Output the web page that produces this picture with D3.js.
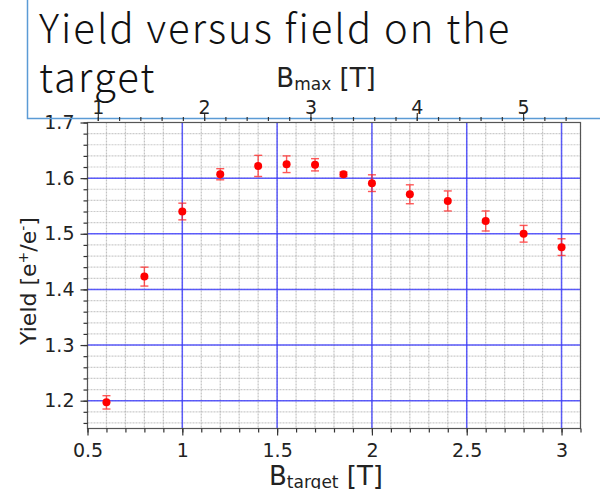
<!DOCTYPE html>
<html>
<head>
<meta charset="utf-8">
<script src="https://cdn.jsdelivr.net/npm/d3@7"></script>
<style>
  body { margin: 0; background: #fff; }
  svg { display: block; }
</style>
</head>
<body>
<div id="chart"></div>
<script>
// measured points
const bTarget = [0.6, 0.8, 1.0, 1.2, 1.4, 1.55, 1.7, 1.85, 2.0, 2.2, 2.4, 2.6, 2.8, 3.0];
const yieldVals = [1.197, 1.423, 1.540, 1.607, 1.622, 1.625, 1.624, 1.607, 1.591, 1.571, 1.559, 1.523, 1.500, 1.476];
const yieldErr = [0.012, 0.017, 0.015, 0.010, 0.019, 0.015, 0.011, 0.004, 0.015, 0.017, 0.018, 0.018, 0.015, 0.015];

const xTicks = [0.5, 1, 1.5, 2, 2.5, 3];
const yTicks = [1.2, 1.3, 1.4, 1.5, 1.6, 1.7];
const bmaxTicks = [1, 2, 3, 4, 5];
const titleLines = ["Yield versus field on the", "target"];

const W = 600, H = 489;
const pLeft = 87.5, pRight = 580.5, pTop = 122.5, pBottom = 428.5;

const svg = d3.select("#chart").append("svg")
  .attr("width", W).attr("height", H);

const x = d3.scaleLinear().domain([0.5, 3.1]).range([pLeft, pRight]);
const y = d3.scaleLinear().domain([1.15, 1.7]).range([pBottom, pTop]);
const xTop = d3.scaleLinear().domain([0.903, 5.54]).range([pLeft, pRight]);

const xMinor = d3.range(0.5, 3.101, 0.1);
const yMinor = d3.range(1.16, 1.701, 0.02);
const topMinor = d3.range(1, 5.41, 0.2);

const font = "'DejaVu Sans', Verdana, sans-serif";

// minor grid
const grid = svg.append("g");
grid.selectAll(".vmin").data(xMinor).join("line")
  .attr("x1", d => x(d)).attr("x2", d => x(d))
  .attr("y1", pTop).attr("y2", pBottom)
  .attr("stroke", "#aaa").attr("stroke-width", 1.2)
  .attr("stroke-dasharray", "2,1").attr("opacity", 0.7);
grid.selectAll(".hmin").data(yMinor).join("line")
  .attr("x1", pLeft).attr("x2", pRight)
  .attr("y1", d => y(d)).attr("y2", d => y(d))
  .attr("stroke", "#aaa").attr("stroke-width", 1.2)
  .attr("stroke-dasharray", "2,1").attr("opacity", 0.6);

// major grid (blue)
grid.selectAll(".vmaj").data(xTicks.slice(1)).join("line")
  .attr("x1", d => x(d)).attr("x2", d => x(d))
  .attr("y1", pTop).attr("y2", pBottom)
  .attr("stroke", "#3a3aff").attr("stroke-width", 1.5).attr("opacity", 0.8);
grid.selectAll(".hmaj").data(yTicks.slice(0, -1)).join("line")
  .attr("x1", pLeft).attr("x2", pRight)
  .attr("y1", d => y(d)).attr("y2", d => y(d))
  .attr("stroke", "#3a3aff").attr("stroke-width", 1.5).attr("opacity", 0.8);

// frame
svg.append("rect")
  .attr("x", pLeft).attr("y", pTop)
  .attr("width", pRight - pLeft).attr("height", pBottom - pTop)
  .attr("fill", "none").attr("stroke", "#555").attr("stroke-width", 1.2);

function styleAxis(g) {
  g.select(".domain").remove();
  g.selectAll(".tick line").attr("stroke", "#333").attr("stroke-width", 1.2);
  g.selectAll("text").attr("fill", "#222")
    .style("font-family", font).style("font-size", "19px");
}

// bottom axis
svg.append("g").attr("transform", `translate(0,${pBottom})`)
  .call(d3.axisBottom(x).tickValues(xMinor).tickSize(4).tickFormat(""))
  .call(styleAxis);
svg.append("g").attr("transform", `translate(0,${pBottom})`)
  .call(d3.axisBottom(x).tickValues(xTicks).tickSize(7).tickPadding(8).tickFormat(d3.format("")))
  .call(styleAxis);

// left axis
svg.append("g").attr("transform", `translate(${pLeft},0)`)
  .call(d3.axisLeft(y).tickValues(yMinor).tickSize(4).tickFormat(""))
  .call(styleAxis);
svg.append("g").attr("transform", `translate(${pLeft},0)`)
  .call(d3.axisLeft(y).tickValues(yTicks).tickSize(7).tickPadding(6).tickFormat(d3.format(".1f")))
  .call(styleAxis);

// error bars and points
const pts = bTarget.map((b, i) => ({b: b, v: yieldVals[i], e: yieldErr[i]}));
const eb = svg.append("g").attr("stroke", "#ff2020").attr("stroke-width", 1.4).attr("opacity", 0.75);
eb.selectAll(".bar").data(pts).join("line")
  .attr("x1", d => x(d.b)).attr("x2", d => x(d.b))
  .attr("y1", d => y(d.v - d.e)).attr("y2", d => y(d.v + d.e));
eb.selectAll(".capT").data(pts).join("line")
  .attr("x1", d => x(d.b) - 4).attr("x2", d => x(d.b) + 4)
  .attr("y1", d => y(d.v + d.e)).attr("y2", d => y(d.v + d.e));
eb.selectAll(".capB").data(pts).join("line")
  .attr("x1", d => x(d.b) - 4).attr("x2", d => x(d.b) + 4)
  .attr("y1", d => y(d.v - d.e)).attr("y2", d => y(d.v - d.e));
svg.append("g").selectAll("circle").data(pts).join("circle")
  .attr("cx", d => x(d.b)).attr("cy", d => y(d.v))
  .attr("r", 4).attr("fill", "#ff0000");

// axis titles
const xt = svg.append("text").attr("x", (pLeft + pRight) / 2 - 8).attr("y", 485)
  .attr("text-anchor", "middle").attr("fill", "#222")
  .style("font-family", font).style("font-size", "26px");
xt.append("tspan").text("B");
xt.append("tspan").attr("dy", 3).style("font-size", "17px").text("target");
xt.append("tspan").attr("dy", -3).text(" [T]");

const yt = svg.append("text")
  .attr("transform", `translate(36,${281}) rotate(-90)`)
  .attr("text-anchor", "middle").attr("fill", "#222")
  .style("font-family", font).style("font-size", "22px");
yt.append("tspan").text("Yield [e");
yt.append("tspan").attr("dy", -8).style("font-size", "14px").text("+");
yt.append("tspan").attr("dy", 8).text("/e");
yt.append("tspan").attr("dy", -8).style("font-size", "14px").text("-");
yt.append("tspan").attr("dy", 8).text("]");

// title box
svg.append("path")
  .attr("d", `M27.5,-5V118.5H${W + 5}`)
  .attr("fill", "none").attr("stroke", "#5b9bd5").attr("stroke-width", 1.5);

const title = svg.append("text").attr("fill", "#111")
  .style("font-family", "'Noto Sans CJK JP', 'Noto Sans', sans-serif")
  .style("font-weight", 300)
  .style("letter-spacing", "2px")
  .style("font-size", "40px");
title.selectAll("tspan").data(titleLines).join("tspan")
  .attr("x", 39).attr("y", (d, i) => 43 + i * 49).text(d => d);

// top axis (B max)
svg.append("g").attr("transform", `translate(0,121)`)
  .call(d3.axisTop(xTop).tickValues(topMinor).tickSize(4).tickFormat(""))
  .call(styleAxis);
const topAx = svg.append("g").attr("transform", `translate(0,121)`)
  .call(d3.axisTop(xTop).tickValues(bmaxTicks).tickSize(8).tickFormat(d3.format("d")))
  .call(styleAxis);
topAx.selectAll("text").attr("y", -7);

const tt = svg.append("text").attr("x", 326).attr("y", 87)
  .attr("text-anchor", "middle").attr("fill", "#222")
  .style("font-family", font).style("font-size", "26px");
tt.append("tspan").text("B");
tt.append("tspan").attr("dy", 3).style("font-size", "17px").text("max");
tt.append("tspan").attr("dy", -3).text(" [T]");
</script>
</body>
</html>
